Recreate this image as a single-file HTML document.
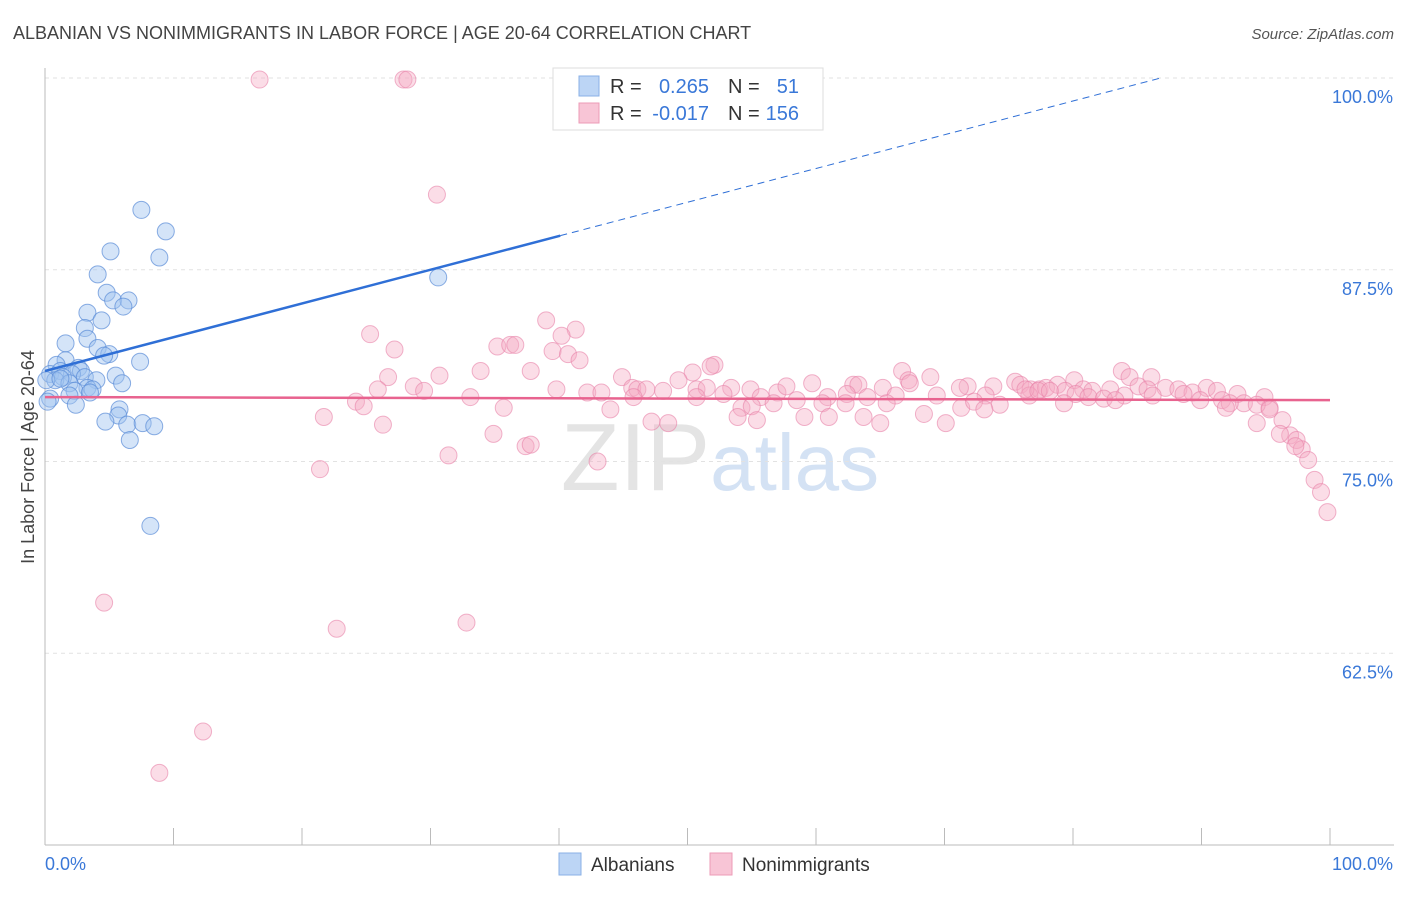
<!DOCTYPE html>
<html><head><meta charset="utf-8"><style>
body{margin:0;background:#fff;font-family:"Liberation Sans",sans-serif;}
svg text{font-family:"Liberation Sans",sans-serif;}
</style></head><body>
<svg id="chart" width="1406" height="892" xmlns="http://www.w3.org/2000/svg">
<text x="13" y="39" font-size="18" fill="#444">ALBANIAN VS NONIMMIGRANTS IN LABOR FORCE | AGE 20-64 CORRELATION CHART</text>
<text x="1394" y="39" font-size="15" fill="#555" text-anchor="end" font-style="italic">Source: ZipAtlas.com</text>
<text transform="translate(34,457) rotate(-90)" font-size="18" fill="#444" text-anchor="middle">In Labor Force | Age 20-64</text>
<text x="720" y="490" font-size="96" fill="#e4e4e4" text-anchor="middle" font-family="Liberation Serif">ZIP<tspan fill="#d4e2f4" font-family="Liberation Sans" font-size="80">atlas</tspan></text>
<g id="grid"></g><g id="axes"></g><g id="pts"></g><g id="trend"></g>
<g>
<rect x="553" y="68" width="270" height="62" fill="#fff" stroke="#ddd"/>
<rect x="579" y="76" width="20" height="20" fill="#bcd5f5" stroke="#8ab0e6"/>
<text x="610" y="93" font-size="20" fill="#333">R =</text>
<text x="709" y="93" font-size="20" fill="#3a78d8" text-anchor="end">0.265</text>
<text x="728" y="93" font-size="20" fill="#333">N =</text>
<text x="799" y="93" font-size="20" fill="#3a78d8" text-anchor="end">51</text>
<rect x="579" y="103" width="20" height="20" fill="#f8c5d6" stroke="#ec9bb7"/>
<text x="610" y="120" font-size="20" fill="#333">R =</text>
<text x="709" y="120" font-size="20" fill="#3a78d8" text-anchor="end">-0.017</text>
<text x="728" y="120" font-size="20" fill="#333">N =</text>
<text x="799" y="120" font-size="20" fill="#3a78d8" text-anchor="end">156</text>
</g>
<g>
<rect x="559" y="853" width="22" height="22" fill="#bcd5f5" stroke="#8ab0e6"/>
<text x="591" y="871" font-size="19" fill="#333">Albanians</text>
<rect x="710" y="853" width="22" height="22" fill="#f8c5d6" stroke="#ec9bb7"/>
<text x="742" y="871" font-size="19" fill="#333">Nonimmigrants</text>
</g>
</svg>
<script>
const yTicks=[100,87.5,75,62.5];
const yTickLabels=["100.0%","87.5%","75.0%","62.5%"];
const xTickLabels=["0.0%","100.0%"];
const blueX=[7.5,9.4,5.1,8.9,4.1,30.6,4.8,5.3,6.5,6.1,3.3,4.4,3.1,3.3,1.6,4.1,5.0,4.6,7.4,1.6,0.9,2.6,2.8,0.4,1.2,2.1,1.4,3.1,5.5,4.0,0.8,1.9,6.0,3.3,3.7,2.3,1.9,3.5,0.4,0.2,2.4,5.8,5.7,4.7,6.4,7.6,8.5,6.6,8.2,0.1,1.2];
const blueY=[91.4,90.0,88.7,88.3,87.2,87.0,86.0,85.5,85.5,85.1,84.7,84.2,83.7,83.0,82.7,82.4,82.0,81.9,81.5,81.6,81.3,81.1,80.9,80.7,80.9,80.7,80.5,80.5,80.6,80.3,80.3,80.1,80.1,79.8,79.7,79.6,79.3,79.5,79.1,78.9,78.7,78.4,78.0,77.6,77.4,77.5,77.3,76.4,70.8,80.3,80.4];
const pinkX=[16.7,27.9,28.2,30.5,39.0,41.3,25.3,40.2,35.2,36.2,36.6,27.2,39.5,40.7,41.6,33.9,52.1,51.8,26.7,30.7,37.8,66.7,50.4,44.9,68.9,67.2,83.8,84.4,86.1,49.3,75.5,75.9,80.1,28.7,25.9,29.5,39.8,42.2,43.3,45.7,46.1,46.8,48.1,50.7,51.5,53.4,54.9,57.0,57.7,59.7,62.9,63.3,65.2,67.3,71.8,73.8,76.7,77.4,77.9,78.8,79.4,80.8,81.5,82.9,85.1,85.8,87.2,88.2,89.3,90.4,91.2,92.8,94.9,33.1,45.8,50.7,52.8,55.7,60.9,62.4,64.0,66.2,69.4,73.2,76.6,80.2,84.0,86.2,88.6,89.9,91.6,93.3,95.3,24.2,24.8,35.7,44.0,54.2,55.0,56.7,58.5,60.5,62.3,65.5,71.3,72.3,74.3,79.3,81.2,82.4,83.3,92.2,94.3,95.3,96.3,96.9,97.4,97.8,98.3,21.7,26.3,53.9,55.4,59.1,61.0,63.7,65.0,68.4,70.1,73.1,91.9,94.3,96.1,97.3,47.2,48.5,34.9,37.4,37.8,31.4,43.0,21.4,98.8,99.3,99.8,4.6,22.7,32.8,12.3,8.9,76.3,77.3,78.2,71.2];
const pinkY=[99.9,99.9,99.9,92.4,84.2,83.6,83.3,83.2,82.5,82.6,82.6,82.3,82.2,82.0,81.6,80.9,81.3,81.2,80.5,80.6,80.9,80.9,80.8,80.5,80.5,80.3,80.9,80.5,80.5,80.3,80.2,80.0,80.3,79.9,79.7,79.6,79.7,79.5,79.5,79.8,79.7,79.7,79.6,79.7,79.8,79.8,79.7,79.5,79.9,80.1,80.0,80.0,79.8,80.1,79.9,79.9,79.7,79.7,79.8,80.0,79.6,79.7,79.6,79.7,79.9,79.7,79.8,79.7,79.5,79.8,79.6,79.4,79.2,79.2,79.2,79.2,79.4,79.2,79.2,79.4,79.2,79.3,79.3,79.3,79.3,79.4,79.3,79.3,79.4,79.0,79.0,78.8,78.5,78.9,78.6,78.5,78.4,78.5,78.6,78.8,79.0,78.8,78.8,78.8,78.5,78.9,78.7,78.8,79.2,79.1,79.0,78.8,78.7,78.4,77.7,76.7,76.4,75.8,75.1,77.9,77.4,77.9,77.7,77.9,77.9,77.9,77.5,78.1,77.5,78.4,78.5,77.5,76.8,76.0,77.6,77.5,76.8,76.0,76.1,75.4,75.0,74.5,73.8,73.0,71.7,65.8,64.1,64.5,57.4,54.7,79.7,79.6,79.6,79.8];
const blueTrend=[80.9,0.22];
const pinkTrend=[79.2,-0.002];
const NS="http://www.w3.org/2000/svg";
const X0=45,X1=1330,YB=845,YT=78;
const sx=v=>X0+(v/100)*(X1-X0);
const sy=v=>YB-(v-50)/50*(YB-YT);
function mk(tag,attrs,parent){const e=document.createElementNS(NS,tag);for(const k in attrs)e.setAttribute(k,attrs[k]);parent.appendChild(e);return e;}
const grid=document.getElementById('grid'),axes=document.getElementById('axes'),pts=document.getElementById('pts'),trend=document.getElementById('trend');
yTicks.forEach((t,i)=>{
 const l=mk('line',{x1:X0,x2:1394,y1:sy(t),y2:sy(t),stroke:'#e2e2e2','stroke-dasharray':'4,4'},grid);
 
 
 const tx=mk('text',{x:1393,y:sy(t)+25,'font-size':18,fill:'#3a78d8','text-anchor':'end'},axes);
 tx.textContent=yTickLabels[i];
 
 
});
const ax=mk('line',{x1:X0,x2:X0,y1:68,y2:YB,stroke:'#bbb'},axes);


const bx=mk('line',{x1:X0,x2:1394,y1:YB,y2:YB,stroke:'#bbb'},axes);


for(let i=0;i<=10;i++){
 const t=mk('line',{x1:sx(i*10),x2:sx(i*10),y1:828,y2:YB,stroke:'#bbb'},axes);
 
 
}
[[0,'start',45],[100,'end',1393]].forEach((d,i)=>{
 const t=mk('text',{x:d[2],y:870,'font-size':18,fill:'#3a78d8','text-anchor':d[1]},axes);
 t.textContent=xTickLabels[i];
 
 
});
pinkX.forEach((x,i)=>{
 const c=mk('circle',{cx:sx(x),cy:sy(pinkY[i]),r:8.5,fill:'rgba(244,170,196,0.4)',stroke:'rgba(232,130,168,0.6)','stroke-width':1},pts);
 
 
});
blueX.forEach((x,i)=>{
 const c=mk('circle',{cx:sx(x),cy:sy(blueY[i]),r:8.5,fill:'rgba(160,195,240,0.45)',stroke:'rgba(90,140,215,0.7)','stroke-width':1},pts);
 
 
});
const bEnd=(100-blueTrend[0])/blueTrend[1];
const b1=mk('line',{x1:sx(0),y1:sy(blueTrend[0]),x2:sx(40.1),y2:sy(blueTrend[0]+blueTrend[1]*40.1),stroke:'#2f6fd6','stroke-width':2.5},trend);


const b2=mk('line',{x1:sx(40.1),y1:sy(blueTrend[0]+blueTrend[1]*40.1),x2:sx(bEnd),y2:sy(100),stroke:'#2f6fd6','stroke-width':1,'stroke-dasharray':'7,5'},trend);


const p1=mk('line',{x1:sx(0),y1:sy(pinkTrend[0]),x2:sx(100),y2:sy(pinkTrend[0]+pinkTrend[1]*100),stroke:'#e8638f','stroke-width':2.5},trend);


</script>
</body></html>
